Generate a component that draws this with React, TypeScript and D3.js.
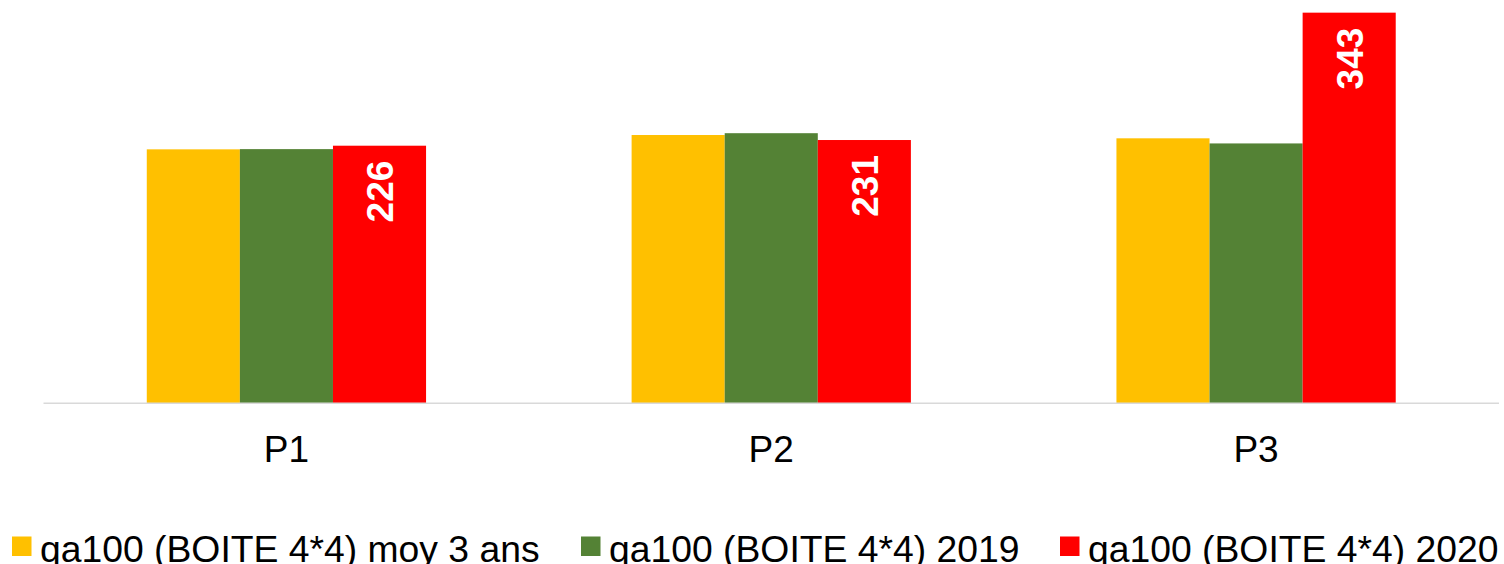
import React from "react";
import * as d3 from "d3";

const categories = ["P1", "P2", "P3"];
const seriesNames = [
  "qa100 (BOITE 4*4) moy 3 ans",
  "qa100 (BOITE 4*4) 2019",
  "qa100 (BOITE 4*4) 2020",
];
const moy3ans = [222.8, 235.4, 232.5];
const y2019 = [223, 237, 228];
const y2020 = [226, 231, 343];
const seriesValues = [moy3ans, y2019, y2020];
const seriesColors = ["#FFC000", "#548235", "#FF0000"];
const labelled = [false, false, true];

const W = 1504;
const H = 564;
const FONT = "'Liberation Sans', Arial, sans-serif";

export default function App() {
  const x0 = d3.scaleBand().domain(categories).range([44, 1498.5]).paddingInner(0).paddingOuter(0);
  const x1 = d3
    .scaleBand()
    .domain(seriesNames)
    .range([0, x0.bandwidth()])
    .paddingInner(0)
    .paddingOuter(1.104);
  const y = d3.scaleLinear().domain([0, 350]).range([402.7, 4.7]);
  const base = y(0);
  const legendX = [12, 581, 1060];

  return (
    <svg
      width={W}
      height={H}
      style={{ position: "absolute", left: 0, top: 0, background: "#fff" }}
      fontFamily={FONT}
    >
      <rect x={0} y={0} width={W} height={H} fill="#fff" />
      {categories.map((c, ci) => (
        <g key={c} transform={`translate(${x0(c)},0)`}>
          {seriesNames.map((s, si) => {
            const v = seriesValues[si][ci];
            const bx = x1(s)!;
            const bw = x1.bandwidth();
            return (
              <rect key={s} x={bx} y={y(v)} width={bw} height={base - y(v) + 1} fill={seriesColors[si]} />
            );
          })}
        </g>
      ))}
      <line x1={43.5} x2={1499} y1={base + 0.5} y2={base + 0.5} stroke="#d9d9d9" strokeWidth={1.5} />
      {categories.map((c, ci) => (
        <g key={c + "lab"} transform={`translate(${x0(c)},0)`}>
          {seriesNames.map((s, si) => {
            if (!labelled[si]) return null;
            const v = seriesValues[si][ci];
            const cx = x1(s)! + x1.bandwidth() / 2 + 13.5;
            const ty = y(v) + 15;
            return (
              <text
                key={s}
                transform={`translate(${cx},${ty}) rotate(-90)`}
                textAnchor="end"
                fill="#fff"
                fontWeight="bold"
                fontSize={37}
              >
                {d3.format("d")(v)}
              </text>
            );
          })}
        </g>
      ))}
      {categories.map((c) => (
        <text key={c + "ax"} x={x0(c)! + x0.bandwidth() / 2} y={461.7} textAnchor="middle" fontSize={37} fill="#000">
          {c}
        </text>
      ))}
      {seriesNames.map((s, si) => (
        <g key={s + "leg"}>
          <rect x={legendX[si]} y={536.5} width={19.5} height={19.5} fill={seriesColors[si]} />
          <text x={legendX[si] + 28} y={561.5} fontSize={37.3} fill="#000">
            {s}
          </text>
        </g>
      ))}
    </svg>
  );
}
